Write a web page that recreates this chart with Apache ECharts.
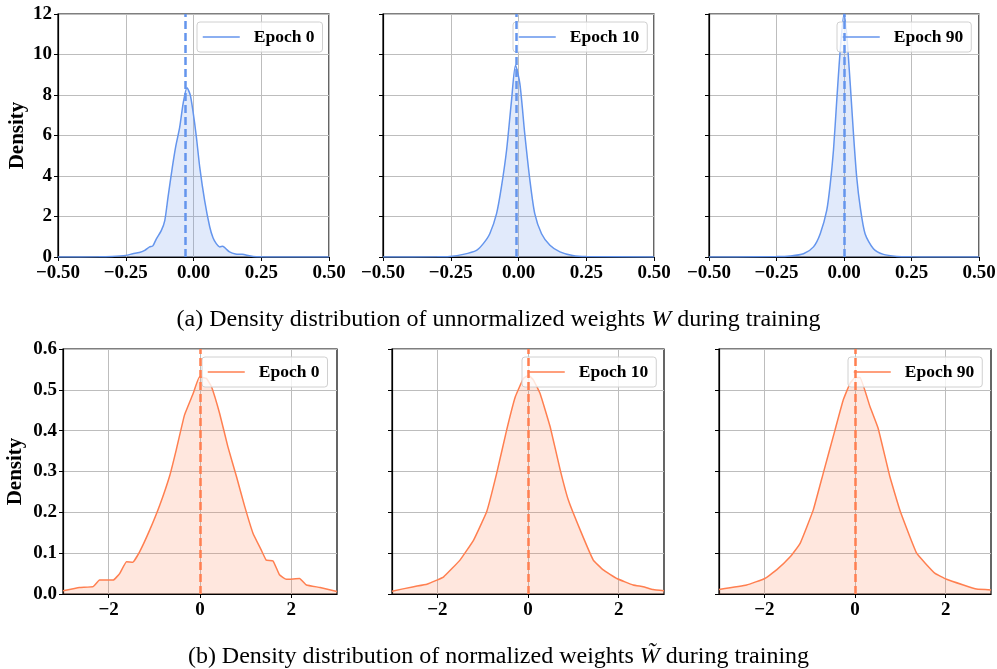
<!DOCTYPE html>
<html>
<head>
<meta charset="utf-8">
<script src="https://cdn.jsdelivr.net/npm/echarts@6/dist/echarts.min.js"></script>
<style>html,body{margin:0;padding:0;background:#fff}#c{width:997px;height:669px}</style>
</head>
<body>
<div id="c"></div>
<script>
// ---- Data ----
var epochNames = ['Epoch 0', 'Epoch 10', 'Epoch 90'];

// (a) unnormalized weights
var wX0 = [-0.5, -0.35, -0.3, -0.25, -0.224, -0.2, -0.18, -0.162, -0.15, -0.137, -0.119, -0.106, -0.094, -0.078, -0.065, -0.051, -0.038, -0.024, -0.012, -0.002, 0.01, 0.023, 0.041, 0.06, 0.072, 0.084, 0.097, 0.108, 0.12, 0.133, 0.155, 0.18, 0.22, 0.3, 0.5];
var wY0 = [0, 0.01, 0.03, 0.08, 0.16, 0.22, 0.33, 0.5, 0.55, 0.9, 1.3, 1.8, 2.96, 4.44, 5.5, 6.4, 7.6, 8.36, 8.0, 7.2, 6.0, 4.44, 2.8, 1.48, 0.95, 0.66, 0.5, 0.53, 0.4, 0.25, 0.15, 0.13, 0.03, 0.005, 0];
var wX10 = [-0.5, -0.3, -0.254, -0.204, -0.155, -0.13, -0.106, -0.081, -0.063, -0.044, -0.026, -0.011, 0.005, 0.023, 0.042, 0.06, 0.085, 0.116, 0.153, 0.2, 0.25, 0.5];
var wY10 = [0, 0.01, 0.03, 0.13, 0.33, 0.66, 1.15, 2.14, 3.46, 5.27, 7.7, 9.47, 8.56, 6.1, 3.8, 2.14, 1.15, 0.58, 0.25, 0.07, 0.02, 0];
var wX90 = [-0.5, -0.4, -0.25, -0.2, -0.15, -0.113, -0.088, -0.064, -0.051, -0.039, -0.027, -0.014, 0, 0.01, 0.023, 0.035, 0.047, 0.06, 0.078, 0.109, 0.146, 0.196, 0.25, 0.32, 0.5];
var wY90 = [0, 0.005, 0.02, 0.05, 0.16, 0.5, 1.15, 2.3, 3.6, 5.27, 7.7, 10.2, 12.0, 11.0, 8.56, 6.1, 3.95, 2.47, 1.15, 0.41, 0.13, 0.03, 0.01, 0.003, 0];
var wMeans = [-0.026, -0.011, -0.003];

// (b) normalized weights
var nX0 = [-3, -2.64, -2.34, -2.2, -1.9, -1.76, -1.61, -1.47, -1.32, -1.1, -0.88, -0.66, -0.52, -0.34, -0.15, -0.01, 0.14, 0.25, 0.43, 0.61, 0.8, 0.98, 1.16, 1.34, 1.45, 1.6, 1.74, 1.89, 2.18, 2.33, 2.63, 3];
var nY0 = [0.008, 0.016, 0.018, 0.034, 0.034, 0.05, 0.079, 0.078, 0.104, 0.157, 0.218, 0.291, 0.353, 0.438, 0.491, 0.532, 0.528, 0.508, 0.442, 0.361, 0.287, 0.214, 0.149, 0.108, 0.083, 0.081, 0.047, 0.036, 0.038, 0.022, 0.016, 0.006];
var nX10 = [-3, -2.52, -2.23, -2.01, -1.86, -1.5, -1.2, -0.91, -0.69, -0.47, -0.28, -0.1, 0.01, 0.12, 0.27, 0.49, 0.71, 0.89, 1.15, 1.44, 1.66, 1.96, 2.32, 2.54, 2.76, 3];
var nY10 = [0.007, 0.018, 0.024, 0.034, 0.042, 0.083, 0.132, 0.202, 0.296, 0.402, 0.483, 0.528, 0.536, 0.524, 0.49, 0.409, 0.304, 0.23, 0.157, 0.083, 0.059, 0.038, 0.022, 0.018, 0.011, 0.008];
var nX90 = [-3, -2.39, -1.99, -1.73, -1.43, -1.21, -0.92, -0.7, -0.44, -0.26, -0.11, 0, 0.11, 0.33, 0.51, 0.77, 1, 1.36, 1.76, 2.02, 2.39, 2.68, 3];
var nY90 = [0.011, 0.022, 0.038, 0.059, 0.091, 0.124, 0.206, 0.296, 0.402, 0.475, 0.516, 0.53, 0.53, 0.459, 0.406, 0.287, 0.202, 0.1, 0.051, 0.036, 0.022, 0.012, 0.01];
var nMeans = [0, 0, 0];

var topXTicks = [-0.5, -0.25, 0, 0.25, 0.5];
var botXTicks = [-2, 0, 2];
var captionA = '(a) Density distribution of unnormalized weights ';
var captionB = '(b) Density distribution of normalized weights ';

// ---- Build ----
function zip(a, b) { return a.map(function (v, i) { return [v, b[i]]; }); }
function minus(s) { return String(s).replace('-', '\u2212'); }

var BLUE = '#6495ED', ORANGE = '#FF7F50';
var serif = '"Liberation Serif", "Times New Roman", serif';

var topGrids = [
  {left: 58, top: 14, width: 271, height: 243},
  {left: 383, top: 14, width: 271, height: 243},
  {left: 709, top: 14, width: 270, height: 243}
];
var botGrids = [
  {left: 63, top: 349, width: 274, height: 245},
  {left: 392, top: 349, width: 272, height: 245},
  {left: 719, top: 349, width: 272, height: 245}
];
var topLegends = [{left: 197, top: 22}, {left: 513, top: 22}, {left: 837, top: 22}];
var botLegends = [{left: 202, top: 357}, {left: 522, top: 357}, {left: 848, top: 357}];

var grids = [], xAxes = [], yAxes = [], series = [], legends = [];
var topData = [zip(wX0, wY0), zip(wX10, wY10), zip(wX90, wY90)];
var botData = [zip(nX0, nY0), zip(nX10, nY10), zip(nX90, nY90)];

function addPanel(idx, g, isTop, col) {
  grids.push(Object.assign({show: true, borderColor: '#000', borderWidth: 1.2, backgroundColor: 'transparent', outerBoundsMode: 'none'}, g));
  var color = isTop ? BLUE : ORANGE;
  var xa = {
    type: 'value', gridIndex: idx,
    min: isTop ? -0.5 : -3, max: isTop ? 0.5 : 3,
    axisLine: {show: true, onZero: false, lineStyle: {color: '#000', width: 1.2}},
    axisTick: {show: true, length: 4, lineStyle: {color: '#000'}},
    splitLine: {show: true, lineStyle: {color: '#bdbdbd', width: 1}},
    axisLabel: {color: '#000', fontFamily: serif, fontWeight: 'bold', fontSize: 19, margin: 7,
      formatter: function (v) { return isTop ? minus(v.toFixed(2)) : minus(v.toFixed(0)); }}
  };
  if (isTop) { xa.interval = 0.25; }
  else {
    xa.axisTick.customValues = botXTicks;
    xa.axisLabel.customValues = botXTicks;
  }
  xAxes.push(xa);
  var ya = {
    type: 'value', gridIndex: idx,
    min: 0, max: isTop ? 12 : 0.6, interval: isTop ? 2 : 0.1,
    axisLine: {show: true, onZero: false, lineStyle: {color: '#000', width: 1.2}},
    axisTick: {show: true, length: 4, lineStyle: {color: '#000'}},
    splitLine: {show: true, lineStyle: {color: '#bdbdbd', width: 1}},
    axisLabel: {show: col === 0, color: '#000', fontFamily: serif, fontWeight: 'bold', fontSize: 19, margin: 6,
      formatter: function (v) { return isTop ? String(Math.round(v)) : v.toFixed(1); }}
  };
  if (col === 0) {
    ya.name = 'Density'; ya.nameLocation = 'middle'; ya.nameRotate = 90;
    ya.nameGap = isTop ? 30 : 37;
    ya.nameTextStyle = {color: '#000', fontFamily: serif, fontWeight: 'bold', fontSize: 21};
  }
  yAxes.push(ya);
  var name = epochNames[col];
  var sname = (isTop ? 'W ' : 'N ') + name;
  series.push({
    type: 'line', name: sname, xAxisIndex: idx, yAxisIndex: idx,
    data: isTop ? topData[col] : botData[col],
    showSymbol: false, symbol: 'none', smooth: isTop ? 0.25 : 0.1,
    lineStyle: {color: color, width: 1.5},
    itemStyle: {color: color},
    areaStyle: {color: isTop ? 'rgba(100,149,237,0.28)' : 'rgba(255,127,80,0.27)', origin: 'start'},
    silent: true, animation: false,
    markLine: {
      silent: true, symbol: 'none', animation: false,
      label: {show: false},
      lineStyle: {color: color, type: [8, 4], width: 2.5},
      data: [{xAxis: isTop ? wMeans[col] : nMeans[col]}]
    }
  });
  var lp = isTop ? topLegends[col] : botLegends[col];
  legends.push({
    left: lp.left, top: lp.top, orient: 'vertical',
    data: [{name: sname, lineStyle: {color: color, width: 1.5}, itemStyle: {color: color, opacity: 0, borderWidth: 0}}],
    formatter: function () { return name; },
    itemWidth: 37, itemHeight: 14,
    padding: [6, 8, 6, 5],
    backgroundColor: 'rgba(255,255,255,0.8)', borderColor: '#d0d0d0', borderWidth: 1, borderRadius: 3,
    textStyle: {color: '#000', fontFamily: serif, fontWeight: 'bold', fontSize: 17.5, padding: [0, 0, 0, 9]},
    selectedMode: false
  });
}

for (var i = 0; i < 3; i++) addPanel(i, topGrids[i], true, i);
for (var j = 0; j < 3; j++) addPanel(3 + j, botGrids[j], false, j);

var capStyle = {rich: {
  t: {fontFamily: serif, fontWeight: 'normal', fontSize: 24, color: '#000'},
  w: {fontFamily: serif, fontWeight: 'normal', fontStyle: 'italic', fontSize: 24, color: '#000'}
}, fontWeight: 'normal'};

var option = {
  animation: false,
  backgroundColor: '#fff',
  grid: grids, xAxis: xAxes, yAxis: yAxes, series: series, legend: legends,
  title: [
    {text: '{t|' + captionA + '}{w|W}{t| during training}', left: 'center', top: 303, textStyle: capStyle},
    {text: '{t|' + captionB + '}{w|W\u0303}{t| during training}', left: 'center', top: 640, textStyle: capStyle}
  ]
};
var chart = echarts.init(document.getElementById('c'), null, {renderer: 'canvas'});
chart.setOption(option);
</script>
</body>
</html>
